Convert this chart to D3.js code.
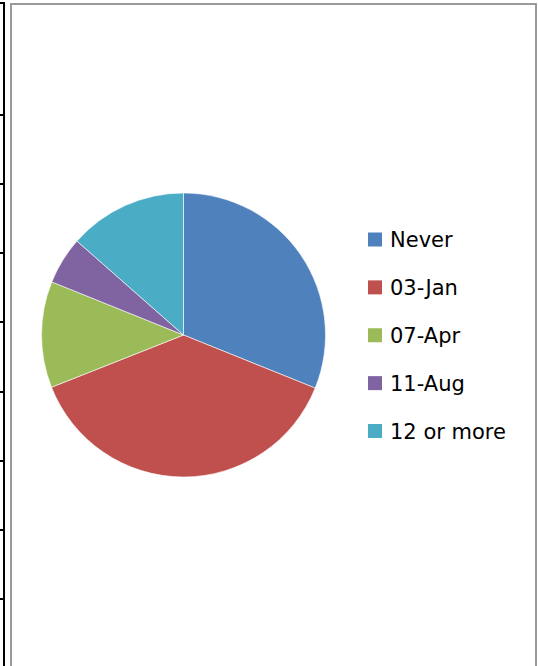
<!DOCTYPE html>
<html>
<head>
<meta charset="utf-8">
<script src="https://cdn.jsdelivr.net/npm/d3@7"></script>
<style>
  html, body { margin: 0; padding: 0; background: #fff; }
  svg { display: block; }
</style>
</head>
<body>
<div id="chart"></div>
<script>
// Slice categories and shares
const categories = ['Never', '03-Jan', '07-Apr', '11-Aug', '12 or more'];
const values = [31.1, 37.9, 12.1, 5.4, 13.5];
const colors = ['#4F81BD', '#C0504D', '#9BBB59', '#8064A2', '#4BACC6'];

// Neighbouring chart's axis fragment on the left edge (unlabelled ticks)
const leftTicks = [0, 1, 2, 3, 4, 5, 6, 7];

const width = 538, height = 666;

const svg = d3.select('#chart')
    .append('svg')
    .attr('width', width)
    .attr('height', height);

// Left axis piece from the adjacent chart
const yLeft = d3.scaleLinear().domain([0, 7]).range([599, 115]);
svg.append('line')
    .attr('x1', 4).attr('x2', 4)
    .attr('y1', 3).attr('y2', height)
    .attr('stroke', '#000').attr('stroke-width', 2);
svg.append('line')
    .attr('x1', 0).attr('x2', 5)
    .attr('y1', 3).attr('y2', 3)
    .attr('stroke', '#000').attr('stroke-width', 2);
svg.selectAll('.left-tick')
    .data(leftTicks)
    .enter()
    .append('line')
    .attr('class', 'left-tick')
    .attr('x1', 0).attr('x2', 4)
    .attr('y1', d => Math.round(yLeft(d)))
    .attr('y2', d => Math.round(yLeft(d)))
    .attr('stroke', '#000').attr('stroke-width', 2);

// Chart area frame (bottom runs off the page)
svg.append('rect')
    .attr('x', 11).attr('y', 4)
    .attr('width', 525).attr('height', height + 20)
    .attr('fill', 'none')
    .attr('stroke', '#9a9a9a')
    .attr('stroke-width', 2);

// Pie
const cx = 183.5, cy = 335, radius = 142;
const pie = d3.pie().sort(null).value(d => d.value);
const arc = d3.arc().innerRadius(0).outerRadius(radius);
const data = categories.map((c, i) => ({ name: c, value: values[i], color: colors[i] }));

const pieG = svg.append('g')
    .attr('transform', `translate(${cx}, ${cy})`);

pieG.selectAll('path')
    .data(pie(data))
    .enter()
    .append('path')
    .attr('d', arc)
    .attr('fill', d => d.data.color)
    .attr('stroke', '#fff')
    .attr('stroke-width', 0.6);

// Legend
const legendY = d3.scalePoint()
    .domain(categories)
    .range([239.5, 431]);

const legend = svg.append('g').attr('class', 'legend');
const items = legend.selectAll('.item')
    .data(data)
    .enter()
    .append('g')
    .attr('class', 'item')
    .attr('transform', d => `translate(368, ${legendY(d.name)})`);

items.append('rect')
    .attr('x', 0).attr('y', -7)
    .attr('width', 14).attr('height', 14)
    .attr('fill', d => d.color);

items.append('text')
    .attr('x', 22)
    .attr('y', 7.5)
    .attr('font-family', 'DejaVu Sans, sans-serif')
    .attr('font-size', '21px')
    .attr('fill', '#000')
    .text(d => d.name);
</script>
</body>
</html>
